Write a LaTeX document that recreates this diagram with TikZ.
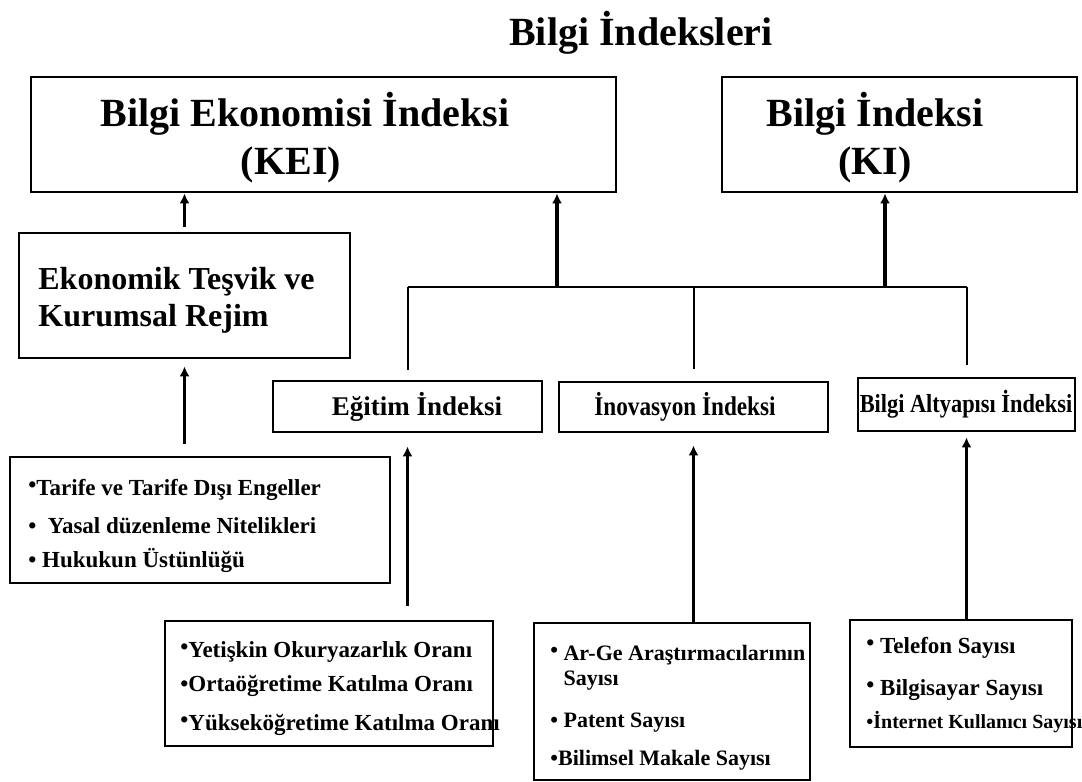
\documentclass[tikz,border=0pt]{standalone}
\usepackage{fontspec}
\setmainfont{Liberation Serif}
\newfontfamily\narrowfont[FakeStretch=0.86]{Liberation Serif}
\usetikzlibrary{arrows.meta}
\newcommand{\upb}{\raisebox{1.5pt}{\textbullet}}

\begin{document}
\begin{tikzpicture}[x=0.5pt,y=-0.5pt,box/.style={draw,line width=1.4pt,inner sep=0pt},txt/.style={inner sep=0pt,align=center,font=\bfseries},big/.style={txt,font=\fontsize{20}{24}\selectfont\bfseries},list/.style={inner sep=0pt,align=left,anchor=base west,font=\fontsize{11.5}{12.5}\selectfont\bfseries},arr/.style={-{Latex[length=5pt,width=5pt]},line width=1.6pt},wire/.style={line width=1pt}]
\clip (0,0) rectangle (1082,782);
\fill[white] (0,0) rectangle (1082,782);
\node[big] (title) at (641,33) {Bilgi İndeksleri};
\node[box,minimum width=292.5pt,minimum height=57.5pt] (kei) at (323.5,134.5) {};
\node[big] (keitxt) at (305,138) {Bilgi Ekonomisi İndeksi\\(KEI)\hspace*{14pt}};
\node[box,minimum width=177.5pt,minimum height=57.5pt] (ki) at (899.5,134.5) {};
\node[big] (kitxt) at (875,138) {Bilgi İndeksi\\(KI)};
\node[box,minimum width=165.5pt,minimum height=62.5pt] (ekt) at (184.5,295.5) {};
\node[txt,align=left,anchor=west,font=\fontsize{16}{18.5}\selectfont\bfseries] (ekttxt) at (38,300) {Ekonomik Teşvik ve\\Kurumsal Rejim};
\node[box,minimum width=134.5pt,minimum height=25.5pt] (egitim) at (407.5,406.5) {};
\node[txt,font=\fontsize{13.5}{16}\selectfont\bfseries] (egitimtxt) at (417,407) {Eğitim İndeksi};
\node[box,minimum width=134.5pt,minimum height=25pt] (inov) at (693.5,407) {};
\node[txt,font=\narrowfont\fontsize{13.5}{16}\selectfont\bfseries] (inovtxt) at (685,407) {İnovasyon İndeksi};
\node[box,minimum width=108.5pt,minimum height=26.5pt] (alt) at (966.5,404.5) {};
\node[txt,font=\narrowfont\fontsize{13}{16}\selectfont\bfseries] (alttxt) at (966,404) {Bilgi Altyapısı İndeksi};
\node[box,minimum width=190pt,minimum height=63pt] (tarife) at (200,520) {};
\node[list] (tarifetxt) at (28,567) {\upb Tarife ve Tarife Dışı Engeller\\[6.5pt]\textbullet\ \ Yasal düzenleme Nitelikleri\\[4.5pt]\textbullet\ Hukukun Üstünlüğü};
\node[box,minimum width=164pt,minimum height=62.5pt] (yetiskin) at (329,683.5) {};
\node[list] (yetiskintxt) at (180,730) {\upb Yetişkin Okuryazarlık Oranı\\[4.5pt]\textbullet Ortaöğretime Katılma Oranı\\[7pt]\upb Yükseköğretime Katılma Oranı};
\node[box,minimum width=138pt,minimum height=78.5pt] (arge) at (672,701.5) {};
\node[list,font=\fontsize{11}{12.5}\selectfont\bfseries] (argetxt) at (550,765) {\upb\ Ar-Ge Araştırmacılarının\\\phantom{\upb\ }Sayısı\\[8.5pt]\textbullet\ Patent Sayısı\\[6.5pt]\textbullet Bilimsel Makale Sayısı};
\node[box,minimum width=111pt,minimum height=63.5pt] (tel) at (961,683.5) {};
\node[list] (teltxt) at (866,728) {\upb\ Telefon Sayısı\\[8.5pt]\upb\ Bilgisayar Sayısı\\[4pt]{\fontsize{10}{12}\selectfont\textbullet İnternet Kullanıcı Sayısı}};
\coordinate (bus) at (0,287);
\coordinate (busk) at (557,287);
\coordinate (busi) at (885,287);
\draw[wire] (egitim.north |- bus) -- (alt.north |- bus);
\draw[wire,shorten >=5pt] (egitim.north |- bus) -- (egitim.north);\draw[wire,shorten >=6pt] (inov.north |- bus) -- (inov.north);\draw[wire,shorten >=6pt] (alt.north |- bus) -- (alt.north);
\draw[arr] (busk) -- (busk |- kei.south);\draw[arr] (busi) -- (busi |- ki.south);
\draw[arr,shorten <=2.5pt] (ekt.north) -- (ekt.north |- kei.south);
\draw[arr,shorten <=6pt,shorten >=3.5pt] (ekt.south |- tarife.north) -- (ekt.south);
\draw[arr,shorten <=7pt,shorten >=6.5pt] (egitim.south |- yetiskin.north) -- (egitim.south);
\draw[arr,shorten >=6pt] (inov.south |- arge.north) -- (inov.south);
\draw[arr,shorten >=2.5pt] (alt.south |- tel.north) -- (alt.south);
\end{tikzpicture}
\end{document}
